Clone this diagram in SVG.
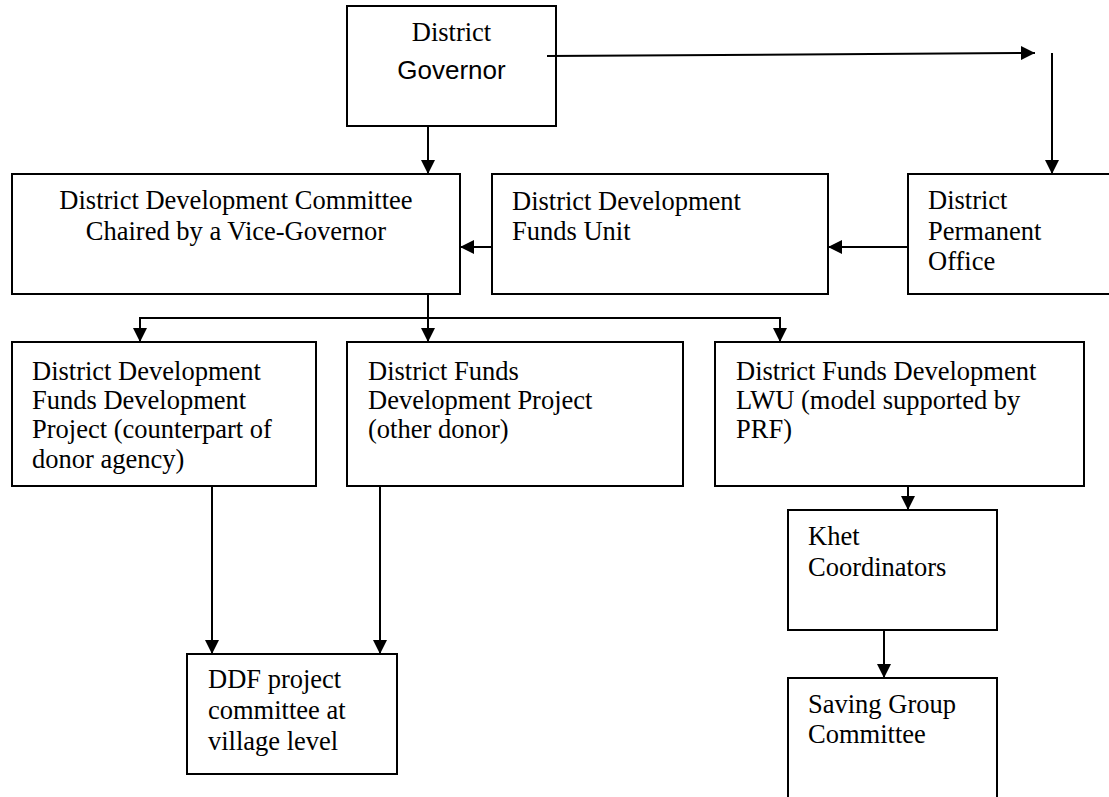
<svg xmlns="http://www.w3.org/2000/svg" width="1109" height="797" viewBox="0 0 1109 797">
<style>
.box{fill:#fff;stroke:#000;stroke-width:2}
.t{font-family:"Liberation Serif","Times New Roman",serif;font-size:26.5px;fill:#000}
.s{font-family:"Liberation Sans",Arial,sans-serif;font-size:26px;fill:#000}
.c{text-anchor:middle}
.ln{fill:none;stroke:#000;stroke-width:2}
.ar{marker-end:url(#ah)}
</style>
<defs>
<marker id="ah" markerUnits="userSpaceOnUse" markerWidth="15" markerHeight="15" refX="14" refY="7" orient="auto">
<path d="M0,0 L14,7 L0,14 z" fill="#000"/>
</marker>
</defs>
<rect width="1109" height="797" fill="#fff"/>
<g id="governor">
<rect class="box" x="347" y="6" width="209" height="120"/>
<text class="t c" x="451.5" y="41">District</text>
<text class="s c" x="451.5" y="79">Governor</text>
</g>
<g id="ddc">
<rect class="box" x="12" y="174" width="448" height="120"/>
<text class="t c" x="236" y="209">District Development Committee</text>
<text class="t c" x="236" y="240">Chaired by a Vice-Governor</text>
</g>
<g id="ddfu">
<rect class="box" x="492" y="174" width="336" height="120"/>
<text class="t" x="512" y="210">District Development</text>
<text class="t" x="512" y="240">Funds Unit</text>
</g>
<g id="dpo">
<rect class="box" x="908" y="174" width="220" height="120"/>
<text class="t" x="928" y="209">District</text>
<text class="t" x="928" y="240">Permanent</text>
<text class="t" x="928" y="270">Office</text>
</g>
<g id="ddfdp">
<rect class="box" x="12" y="342" width="304" height="144"/>
<text class="t" x="32" y="380">District Development</text>
<text class="t" x="32" y="409">Funds Development</text>
<text class="t" x="32" y="438">Project (counterpart of</text>
<text class="t" x="32" y="468">donor agency)</text>
</g>
<g id="dfdp">
<rect class="box" x="347" y="342" width="336" height="144"/>
<text class="t" x="368" y="380">District Funds</text>
<text class="t" x="368" y="409">Development Project</text>
<text class="t" x="368" y="438">(other donor)</text>
</g>
<g id="dfdlwu">
<rect class="box" x="715" y="342" width="369" height="144"/>
<text class="t" x="736" y="380">District Funds Development</text>
<text class="t" x="736" y="409">LWU (model supported by</text>
<text class="t" x="736" y="438">PRF)</text>
</g>
<g id="ddfvillage">
<rect class="box" x="187" y="654" width="210" height="120"/>
<text class="t" x="208" y="688">DDF project</text>
<text class="t" x="208" y="719">committee at</text>
<text class="t" x="208" y="750">village level</text>
</g>
<g id="khet">
<rect class="box" x="788" y="510" width="209" height="120"/>
<text class="t" x="808" y="545">Khet</text>
<text class="t" x="808" y="576">Coordinators</text>
</g>
<g id="saving">
<rect class="box" x="788" y="678" width="209" height="130"/>
<text class="t" x="808" y="713">Saving Group</text>
<text class="t" x="808" y="743">Committee</text>
</g>
<g id="connectors">
<line class="ln ar" x1="428" y1="126" x2="428" y2="174"/>
<line class="ln ar" x1="908" y1="247" x2="828" y2="247"/>
<line class="ln ar" x1="492" y1="247" x2="460" y2="247"/>
<line class="ln" x1="428" y1="294" x2="428" y2="318"/>
<line class="ln" x1="139" y1="318" x2="781" y2="318"/>
<line class="ln ar" x1="140" y1="318" x2="140" y2="342"/>
<line class="ln ar" x1="428" y1="318" x2="428" y2="342"/>
<line class="ln ar" x1="780" y1="318" x2="780" y2="342"/>
<line class="ln ar" x1="212" y1="486" x2="212" y2="654"/>
<line class="ln ar" x1="380" y1="486" x2="380" y2="654"/>
<line class="ln ar" x1="908" y1="486" x2="908" y2="510"/>
<line class="ln ar" x1="884" y1="630" x2="884" y2="678"/>
<line class="ln ar" x1="547" y1="56" x2="1035" y2="53"/>
<line class="ln ar" x1="1052" y1="53" x2="1052" y2="174"/>
</g>
</svg>
